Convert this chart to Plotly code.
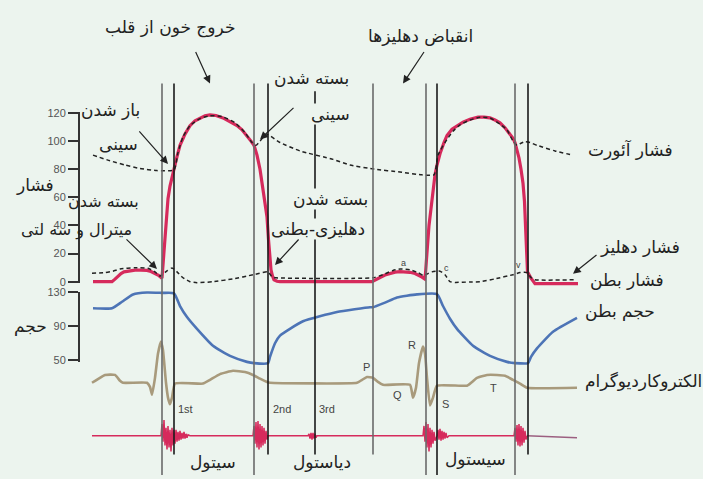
import plotly.graph_objects as go

W, H = 703, 479

# ---------------- data (horizontal axis = time in arbitrary units) ----------------
# left ventricular pressure (mmHg)
lvp_t = [93, 112, 115, 118, 121, 124, 129, 135, 141, 147, 151, 155, 159, 162,
         163, 164, 165, 166.5, 168, 170, 172, 174, 177, 180, 185, 190, 195, 200, 205, 210, 216, 223, 230, 237,
         242, 247, 251, 254, 257, 260, 263, 265, 267, 268.5, 270, 271, 272.5, 274, 277, 280,
         372, 376, 380, 385, 390, 395, 400, 405, 410, 415, 419, 422, 424.5,
         425.5, 426.5, 427.5, 429, 431, 433, 435, 437, 440, 444, 447, 452, 457, 463, 470, 478, 484, 490, 495,
         500, 505, 510, 513, 515, 517, 519, 521, 523, 524.5, 525.5, 526.5, 527.5, 531, 535, 578]
lvp_p = [0, 0, 1.8, 4, 5.8, 7, 7.8, 8.2, 8.3, 8, 7.2, 6, 4.3, 2.5,
         12, 25, 35, 47, 59, 68, 75, 80, 89, 97, 105, 111, 114.5, 116.5, 118, 118.6, 118.2, 116.5, 114, 111,
         108, 104, 100, 97, 90, 80, 66, 56, 46, 30, 17, 8.4, 4, 1.4, 0.3, 0,
         0, 1.2, 3, 4.7, 6, 6.8, 7.1, 7, 6.7, 5.8, 4.5, 3.2, 2,
         6, 16, 29, 40, 52, 64, 76, 83, 91, 99, 104, 108.5, 111, 113.5, 115.5, 117, 117, 116.5, 115,
         113, 109.5, 105, 102, 99, 94, 88, 80, 70, 57, 42, 29, 7, 2.5, -1.4, -1.4]

# aortic pressure (mmHg)
ao_t = [93, 110, 125, 140, 157, 174, 178, 183, 190, 200, 210, 222, 235, 245, 252, 256, 260, 265, 268, 280,
        300, 333, 350, 375, 400, 422, 434, 438, 445, 453, 460, 470, 480, 490, 500, 507, 513, 517, 521, 525,
        530, 537, 555, 573]
ao_p = [90, 86, 83, 80.5, 79, 79.5, 92, 103, 111, 116, 118, 117.5, 113, 106, 99, 97, 100, 104, 104.5, 99,
        93, 87, 83, 80, 78, 76, 76, 90, 99, 107, 111.6, 115, 117, 116.5, 112, 108, 100, 97, 98.5, 99.5,
        99, 97, 93, 90]

# atrial pressure (mmHg)
la_t = [92, 105, 113, 120, 135, 148, 155, 160, 167, 172, 177, 183, 190, 197, 213, 233, 253, 268, 272, 276,
        373, 383, 393, 400, 410, 418, 423, 427, 432, 440, 445, 450, 455, 470, 480, 495, 513, 520, 527, 531,
        535, 575]
la_p = [6, 6.5, 7.5, 9, 10, 9.5, 7, 4, 7.7, 9.8, 7, 2.8, 0, -0.7, 0, 2, 4.9, 7, 3.5, 2.8,
        2.8, 5, 8, 9, 8.5, 6.5, 4.5, 5.5, 7, 7.5, 5, 0, -0.5, -0.2, 0, 2, 5, 6.5, 6.5, 3,
        1.4, 1.4]

# ventricular volume (ml)
vol_t = [93, 112, 122, 133, 147, 162, 174, 180, 187, 197, 213, 230, 247, 254, 268, 270, 275, 280, 303, 337,
         370, 373, 385, 397, 417, 437, 443, 450, 457, 473, 490, 507, 515, 528, 531, 537, 553, 577]
vol_v = [111.4, 111.4, 119, 127.7, 130, 129.5, 129, 114, 101, 87, 67, 55, 48, 46.5, 46.5, 54, 70, 79, 96, 107,
         112.6, 112.6, 118, 124, 127.7, 128, 114, 99, 87, 67, 55, 48, 46.5, 46.5, 54, 64, 83.6, 100]

# electrocardiogram (mV)
ecg_t = [92, 100, 105, 115, 120, 123, 147, 150, 152, 155, 158, 161, 163, 166, 168, 170, 172, 175, 203, 210,
         220, 233, 245, 253, 260, 267, 270, 357, 362, 367, 373, 378, 383, 410, 413, 416, 419, 423, 425, 427,
         430, 433, 437, 467, 472, 477, 487, 497, 505, 513, 520, 527, 577]
ecg_mv = [0, 0.12, 0.19, 0.19, 0.05, 0, 0, -0.1, -0.29, 0.12, 0.71, 1.0, 0.79, 0, -0.36, -0.52, -0.36, -0.02, -0.02, 0.07,
          0.21, 0.29, 0.26, 0.19, 0.1, 0.02, 0, 0, 0.07, 0.14, 0.12, 0.02, -0.05, -0.05, -0.36, -0.12, 0.48, 0.88, 0.71, 0.12,
          -0.55, -0.36, -0.07, -0.07, 0.02, 0.12, 0.19, 0.19, 0.17, 0.07, -0.02, -0.12, -0.12]

# phonocardiogram (arbitrary units)
snd_t = [92,
         161, 162, 163, 164, 165, 166, 167, 168, 169, 170, 171, 172, 173, 174, 175, 176, 177, 178, 179, 180,
         181, 182, 183, 184, 185, 186, 187, 188, 190,
         253, 254, 255, 256, 257, 258, 259, 260, 261, 262, 263, 264, 265, 266, 267, 268,
         308, 309, 310, 311, 312, 313, 314, 315, 316, 317,
         423, 424, 425, 426, 427, 428, 429, 430, 431, 432, 433, 434, 435, 437, 438, 439, 440, 441, 442, 443,
         444, 445, 446, 447, 449,
         514, 515, 516, 517, 518, 519, 520, 521, 522, 523, 524, 525, 526, 527]
snd_a = [0,
         0, 12, -6, 16, -10, 8, -14, 10, -12, 6, -16, 8, -10, 6, -8, 6, -6, 4, -5, 5,
         -4, 3, -3, 4, -3, 2, -2, 1, 0,
         0, 10, -8, 14, -12, 15, -14, 12, -12, 10, -10, 8, -8, 5, -4, 0,
         0, 2, -3, 3, -4, 3, -3, 2, -2, 0,
         0, 10, -6, 14, -12, 12, -16, 8, -12, 6, -8, 4, -5, 0, 6, -4, 7, -5, 5, -4,
         4, -3, 3, -2, 0,
         0, 8, -6, 11, -10, 12, -11, 10, -10, 8, -7, 5, -4, 0]
snd_tail_t = [527, 577]
snd_tail_a = [0, -2]

# cardiac event markers (time) and their style
event_t = [162, 174, 254, 268, 315, 373, 426, 437, 515, 528]
event_dark = [False, True, False, True, True, False, False, True, False, True]
event_long = [True, False, True, False, False, False, True, True, True, False]

press_ticks = [0, 20, 40, 60, 80, 100, 120]
vol_ticks = [50, 90, 130]

# ---------------- styling ----------------
BG = "#ecf4ee"
RED = "#d62a5c"
BLUE = "#4d74b6"
ECGC = "#a89a7c"
DASHC = "#222222"
TXT = "#222222"
FA = "DejaVu Sans, Noto Sans, sans-serif"
LAT = "Liberation Sans, Arial, sans-serif"
CLEAR = "rgba(0,0,0,0)"


def paper_y(ypx):
    return (H - ypx) / H


def full_range(zero_px, ppu):
    return [(zero_px - H) / ppu, zero_px / ppu]


P0, PPU = 282.0, 1.433       # pressure scale
V0, VPU = 405.1, 0.8625      # volume scale
E0, EPU = 385.0, 42.0        # ECG scale
S0, SPU = 439.0, 1.0         # sound scale

fig = go.Figure()

# carriers for the two scale axes (drawn first so data sit on top)
fig.add_trace(go.Scatter(x=[None], y=[None], yaxis="y5", mode="lines"))
fig.add_trace(go.Scatter(x=[None], y=[None], yaxis="y6", mode="lines"))

fig.add_trace(go.Scatter(x=lvp_t, y=lvp_p, mode="lines", yaxis="y",
                         line=dict(color=RED, width=3.2)))
fig.add_trace(go.Scatter(x=ao_t, y=ao_p, mode="lines", yaxis="y",
                         line=dict(color=DASHC, width=1.5, dash="4px,3px", shape="spline", smoothing=0.5)))
fig.add_trace(go.Scatter(x=la_t, y=la_p, mode="lines", yaxis="y",
                         line=dict(color=DASHC, width=1.5, dash="4px,3px", shape="spline", smoothing=0.5)))
fig.add_trace(go.Scatter(x=vol_t, y=vol_v, mode="lines", yaxis="y2",
                         line=dict(color=BLUE, width=2.6, shape="spline", smoothing=0.5)))
fig.add_trace(go.Scatter(x=ecg_t, y=ecg_mv, mode="lines", yaxis="y3",
                         line=dict(color=ECGC, width=2.6, shape="spline", smoothing=0.4)))
fig.add_trace(go.Scatter(x=snd_t, y=snd_a, mode="lines", yaxis="y4",
                         line=dict(color=RED, width=1.5)))
fig.add_trace(go.Scatter(x=snd_tail_t, y=snd_tail_a, mode="lines", yaxis="y4",
                         line=dict(color="#9c5f80", width=1.5)))

hidden = dict(visible=False, showgrid=False, zeroline=False, fixedrange=True)
scale_common = dict(anchor="free", position=79 / W, side="left", showline=True, linecolor="#333",
                    linewidth=2, ticks="outside", ticklen=10, tickwidth=1.5, tickcolor="#333",
                    showgrid=False, zeroline=False, tickfont=dict(family=LAT, size=11, color="#555"),
                    fixedrange=True)

fig.update_layout(
    width=W, height=H, margin=dict(l=0, r=0, t=0, b=0),
    paper_bgcolor=BG, plot_bgcolor=CLEAR, showlegend=False,
    xaxis=dict(domain=[0, 1], range=[0, W], **hidden),
    yaxis=dict(domain=[0, 1], range=full_range(P0, PPU), **hidden),
    yaxis2=dict(overlaying="y", range=full_range(V0, VPU), **hidden),
    yaxis3=dict(overlaying="y", range=full_range(E0, EPU), **hidden),
    yaxis4=dict(overlaying="y", range=full_range(S0, SPU), **hidden),
    yaxis5=dict(domain=[paper_y(283.5), paper_y(109)],
                range=[(P0 - 283.5) / PPU, (P0 - 109) / PPU], tickvals=press_ticks, **scale_common),
    yaxis6=dict(domain=[paper_y(364), paper_y(292)],
                range=[(V0 - 364) / VPU, (V0 - 292) / VPU], tickvals=vol_ticks, **scale_common),
)

# event marker lines
for t, dark, long in zip(event_t, event_dark, event_long):
    top = 88 if t == 315 else 80
    bottom = 479 if long else 458
    fig.add_shape(type="line", xref="x", yref="paper", x0=t, x1=t, y0=paper_y(bottom), y1=paper_y(top),
                  line=dict(color="#1a1a1a" if dark else "#6a6a6a", width=1.6))


def label(text, x, y, size=17, family=FA, color=TXT, bg=None, xanchor="center"):
    fig.add_annotation(text=text, x=x, y=paper_y(y), xref="x", yref="paper", showarrow=False,
                       xanchor=xanchor, yanchor="middle", font=dict(family=family, size=size, color=color),
                       bgcolor=bg if bg else CLEAR, borderpad=0)


def arrow(x, y, ax, ay):
    fig.add_annotation(text="", x=x, y=paper_y(y), xref="x", yref="paper", showarrow=True,
                       ax=ax, ay=ay, arrowhead=2, arrowsize=1.3, arrowwidth=1.2, arrowcolor="#222")


label("خروج خون از قلب", 170, 23)
label("انقباض دهلیزها", 420, 32)
label("بسته شدن", 311, 74)
label("سینی", 330, 111, bg=BG)
label("باز شدن", 110, 107)
label("سینی", 118, 142)
label("فشار", 35, 183)
label("بسته شدن", 103, 200, size=16)
label("میترال و سه لتی", 76, 229, size=16)
label("بسته شدن", 330, 198, bg=BG)
label("دهلیزی-بطنی", 318, 228, bg=BG)
label("فشار آئورت", 630, 147)
label("فشار دهلیز", 640, 247)
label("فشار بطن", 627, 280)
label("حجم بطن", 620, 312)
label("حجم", 30, 328)
label("الکتروکاردیوگرام", 703, 383, xanchor="right")
label("نوار صدای قلب", 714, 440, xanchor="right")
label("سیتول", 213, 466)
label("دیاستول", 322, 466)
label("سیستول", 475, 463)

for txt, x, y in [("1st", 185, 412), ("2nd", 282, 412), ("3rd", 327, 412)]:
    label(txt, x, y, size=11, family=LAT, color="#444")
for txt, x, y in [("P", 366, 369), ("Q", 397, 397), ("R", 412, 347), ("S", 445, 407), ("T", 493, 390)]:
    label(txt, x, y, size=11, family=LAT, color="#444")
for txt, x, y in [("a", 403, 263), ("c", 446, 268), ("v", 518, 265)]:
    label(txt, x, y, size=9, family=LAT, color="#444")

arrow(210, 80, -15, -33)
arrow(403, 80, 22, -33)
arrow(260, 137, 35, -33)
arrow(168, 162, -30, -34)
arrow(157, 269, -32, -31)
arrow(275, 265, 25, -27)
arrow(573, 274, 25, -20)

fig.write_html("out.html", config={"displayModeBar": False},
               post_script="document.body.style.margin='0';document.body.style.overflow='hidden';")
